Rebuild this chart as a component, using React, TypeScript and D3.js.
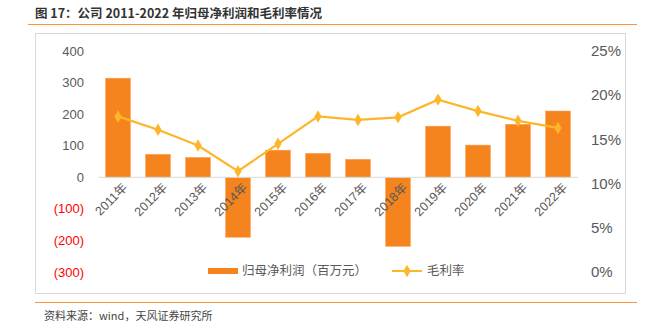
import React from "react";
import * as d3 from "d3";

const categories = ["2011年","2012年","2013年","2014年","2015年","2016年","2017年","2018年","2019年","2020年","2021年","2022年"];
const profit = [314, 73, 63, -190, 86, 76, 57, -219, 162, 102, 168, 210];
const margin = [17.6, 16.1, 14.3, 11.4, 14.5, 17.6, 17.2, 17.5, 19.5, 18.2, 17.1, 16.3];
const leftTicks = [400, 300, 200, 100, 0, -100, -200, -300];
const rightTicks = [0, 5, 10, 15, 20, 25];

const W = 645, H = 328;
const FONT = "'Liberation Sans', Arial, 'Noto Sans CJK SC', sans-serif";
const CJK = "'Noto Sans CJK SC', sans-serif";

export default function App() {
  const x = d3.scaleBand<string>().domain(categories).range([98, 578]).paddingInner(0.375).paddingOuter(0.1875);
  const yL = d3.scaleLinear().domain([-300, 400]).range([272, 51]);
  const yR = d3.scaleLinear().domain([0, 25]).range([272, 51]);
  const line = d3.line<number>().x((_, i) => x(categories[i])! + x.bandwidth() / 2).y(d => yR(d));
  const diamond = d3.symbol().type(d3.symbolDiamond).size(45)();
  const fmtL = (v: number) => (v < 0 ? `(${-v})` : `${v}`);
  return (
    <svg width={W} height={H} style={{ position: "absolute", left: 0, top: 0 }}>
      <rect width={W} height={H} fill="#fff" />
      <text x={35} y={18} fontFamily={CJK} fontSize={12.5} fontWeight="bold" fill="#333">图 17：公司 2011-2022 年归母净利润和毛利率情况</text>
      <line x1={28} x2={637} y1={24.5} y2={24.5} stroke="#F7963C" strokeWidth={1.2} />
      <rect x={35.5} y={33.5} width={590} height={260} fill="#fff" stroke="#d9d9d9" />
      {leftTicks.map(t => (
        <text key={t} x={84} y={yL(t)} dy="0.35em" textAnchor="end" fontFamily={FONT} fontSize={13} fill={t < 0 ? "#ff0000" : "#595959"}>{fmtL(t)}</text>
      ))}
      {rightTicks.map(t => (
        <text key={t} x={591} y={yR(t)} dy="0.35em" textAnchor="start" fontFamily={FONT} fontSize={15} fill="#595959">{t}%</text>
      ))}
      {profit.map((v, i) => (
        <rect key={i} x={x(categories[i])} y={yL(Math.max(0, v))} width={x.bandwidth()} height={Math.abs(yL(v) - yL(0))} fill="#F5841F" stroke="#F9A55A" strokeWidth={0.5} />
      ))}
      <line x1={98} x2={578} y1={yL(0)} y2={yL(0)} stroke="#d9d9d9" strokeWidth={1} />
      {categories.map(c => (
        <text key={c} transform={`translate(${x(c)! + x.bandwidth() / 2 + 7},${yL(0) + 8}) rotate(-45)`} textAnchor="end" dy="0.35em" fontFamily={FONT} fontSize={12.5} fill="#595959">{c}</text>
      ))}
      <path d={line(margin) ?? ""} fill="none" stroke="#FDB62A" strokeWidth={2.2} />
      {margin.map((v, i) => (
        <path key={i} d={diamond ?? ""} transform={`translate(${x(categories[i])! + x.bandwidth() / 2},${yR(v)})`} fill="#FDB62A" />
      ))}
      <rect x={208} y={268} width={30} height={6} fill="#F5841F" />
      <text x={242} y={271} dy="0.35em" fontFamily={CJK} fontSize={12.5} fill="#595959">归母净利润（百万元）</text>
      <line x1={392} x2={422} y1={271} y2={271} stroke="#FDB62A" strokeWidth={2} />
      <path d={diamond ?? ""} transform="translate(407,271)" fill="#FDB62A" />
      <text x={427} y={271} dy="0.35em" fontFamily={CJK} fontSize={12.5} fill="#595959">毛利率</text>
      <line x1={35} x2={637} y1={302.5} y2={302.5} stroke="#F7963C" strokeWidth={1.2} />
      <text x={44} y={316} dy="0.35em" fontFamily={CJK} fontSize={11} fill="#444">资料来源：wind，天风证券研究所</text>
    </svg>
  );
}
